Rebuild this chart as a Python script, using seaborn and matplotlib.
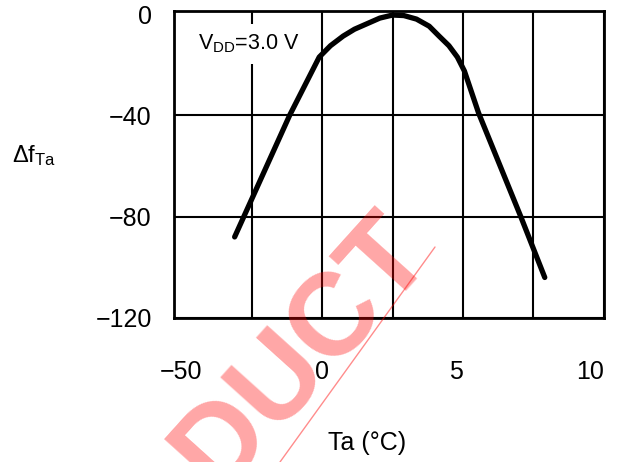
import matplotlib
matplotlib.use("Agg")
import matplotlib.pyplot as plt
from matplotlib.lines import Line2D
import seaborn as sns
import pandas as pd

# Curve (Ta in degC, frequency deviation)
ta = [-31, -11.5, -1, 3, 7.5, 11.5, 16, 20.5, 25, 29, 33.5, 38, 41.5, 45, 48, 50.5, 55.5, 70.5, 79]
dfta = [-88, -40, -17, -12.5, -8.7, -6, -3.8, -1.6, -0.4, -0.6, -2, -4.8, -8.7, -12.5, -17, -22.5, -39, -80, -104]

x_ticks = [-50, -25, 0, 25, 50, 75, 100]
x_labels = ["\u221250", "", "0", "", "5", "", "10"]
y_ticks = [0, -40, -80, -120]
y_labels = ["0", "\u221240", "\u221280", "\u2212120"]

df = pd.DataFrame({"Ta": ta, "dfTa": dfta})

sns.set_style("white")
plt.rcParams["font.family"] = ["Liberation Sans", "DejaVu Sans"]
plt.rcParams["axes.unicode_minus"] = True
plt.rcParams["text.color"] = "black"
plt.rcParams["xtick.color"] = "black"
plt.rcParams["ytick.color"] = "black"

fig = plt.figure(figsize=(6.18, 4.62), dpi=100)
ax = fig.add_axes([0.2816, 0.3117, 0.6957, 0.6645])

sns.lineplot(data=df, x="Ta", y="dfTa", ax=ax, color="black", linewidth=3.8,
             sort=False, zorder=3)

ax.set_xlim(-52.5, 100)
ax.set_ylim(-120, 1.2)
ax.set_xticks(x_ticks)
ax.set_xticklabels(x_labels, fontsize=18)
ax.set_yticks(y_ticks)
ax.set_yticklabels(y_labels, fontsize=18)
for lab in ax.get_xticklabels():
    if lab.get_text() in ("5", "10"):
        lab.set_ha("right")
ax.tick_params(axis="x", length=0, pad=30, labelcolor="black")
ax.tick_params(axis="y", length=0, pad=16, labelcolor="black")
ax.set_xlabel("")
ax.set_ylabel("")

ax.grid(True, color="black", linewidth=1.5)
ax.yaxis.get_gridlines()[0].set_visible(False)
ax.xaxis.get_gridlines()[0].set_visible(False)
for s in ax.spines.values():
    s.set_visible(True)
    s.set_color("black")
    s.set_linewidth(2)

ax.text(0.056, 0.893, r"V$_{\mathregular{DD}}$=3.0 V", transform=ax.transAxes,
        fontsize=15.5, va="center", ha="left", zorder=4, color="black",
        bbox=dict(facecolor="white", edgecolor="none", pad=6))

fig.text(12 / 618, 1 - 162 / 462, r"$\mathregular{\Delta f_{Ta}}$", fontsize=17,
         ha="left", va="baseline", color="black")
fig.text(367 / 618, 1 - 443 / 462, "Ta (\u00b0C)", fontsize=18, ha="center",
         va="center", color="black")

# watermark
fig.text(434 / 618, 1 - 252 / 462, "PRODUCT", fontsize=84, fontweight="bold",
         color="red", alpha=0.35, rotation=48, rotation_mode="anchor",
         ha="right", va="baseline", zorder=10)
fig.add_artist(Line2D([435 / 618, 280 / 618], [1 - 247 / 462, 0], color="red",
                      alpha=0.45, linewidth=1.0, zorder=10))

fig.savefig("out.png", dpi=100)
